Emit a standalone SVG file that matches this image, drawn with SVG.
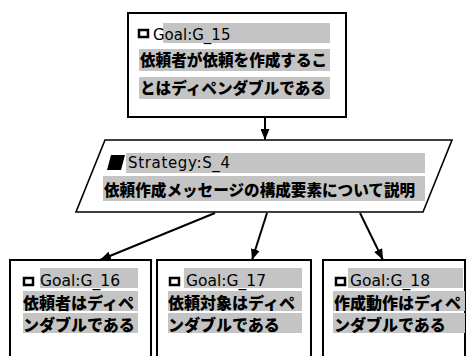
<svg xmlns="http://www.w3.org/2000/svg" width="467" height="356" viewBox="0 0 467 356">
<defs>
<marker id="arr" markerUnits="userSpaceOnUse" markerWidth="11" markerHeight="9" refX="11" refY="4.5" orient="auto"><path d="M0,0 L11,4.5 L0,9 z" fill="#000"/></marker>
<style>
.box{fill:#fff;stroke:#000;stroke-width:2}
.hl{fill:#c4c4c4}
.lbl{font-family:"DejaVu Sans",sans-serif;font-size:15px;fill:#000}
.lbl2{font-family:"DejaVu Sans",sans-serif;font-size:15.5px;fill:#000}
.jp{font-family:"Noto Sans CJK JP",sans-serif;font-size:15.6px;font-weight:900;fill:#000}
.jp2{font-family:"Noto Sans CJK JP",sans-serif;font-size:16px;font-weight:900;fill:#000}
.ico{fill:none;stroke:#000;stroke-width:2.5}
.edge{stroke:#000;stroke-width:2;fill:none;marker-end:url(#arr)}
</style>
</defs>
<rect width="467" height="356" fill="#fff"/>
<g id="G_15">
<rect class="box" x="128" y="13" width="218" height="104"/>
<rect class="hl" x="163" y="23" width="167" height="20"/>
<rect class="hl" x="139" y="49" width="191" height="22"/>
<rect class="hl" x="139" y="77" width="191" height="22"/>
<rect class="ico" x="139" y="30" width="9" height="7"/>
<text class="lbl" x="153" y="40">Goal:G_15</text>
<text class="jp" x="140" y="66">依頼者が依頼を作成するこ</text>
<text class="jp" x="140" y="94">とはディペンダブルである</text>
</g>
<g id="S_4">
<polygon points="105,140 452,140 423,212 76,212" fill="#fff" stroke="#000" stroke-width="1.6"/>
<rect class="hl" x="126" y="153" width="299" height="20"/>
<rect class="hl" x="103" y="176" width="322" height="25"/>
<polygon points="111,155 125,155 121,170 107,170" fill="#000"/>
<text class="lbl" x="128" y="168" textLength="102">Strategy:S_4</text>
<text class="jp" x="104" y="196">依頼作成メッセージの構成要素について説明</text>
</g>
<g id="G_16">
<rect class="box" x="10" y="260" width="141" height="110"/>
<rect class="hl" x="40" y="268" width="98" height="20"/>
<rect class="hl" x="23" y="291" width="115" height="20"/>
<rect class="hl" x="23" y="313" width="115" height="20"/>
<rect class="ico" x="24" y="278" width="9" height="7"/>
<text class="lbl2" x="40" y="285.5">Goal:G_16</text>
<text class="jp2" x="23" y="309">依頼者はディペ</text>
<text class="jp2" x="23" y="331">ンダブルである</text>
</g>
<g id="G_17">
<rect class="box" x="157" y="260" width="154" height="110"/>
<rect class="hl" x="184" y="268" width="118" height="20"/>
<rect class="hl" x="168" y="291" width="134" height="20"/>
<rect class="hl" x="168" y="313" width="134" height="20"/>
<rect class="ico" x="170" y="278" width="9" height="7"/>
<text class="lbl2" x="186" y="285.5">Goal:G_17</text>
<text class="jp2" x="168" y="309">依頼対象はディペ</text>
<text class="jp2" x="168" y="331">ンダブルである</text>
</g>
<g id="G_18">
<rect class="box" x="323" y="260" width="142" height="110"/>
<rect class="hl" x="348" y="268" width="115" height="20"/>
<rect class="hl" x="333" y="291" width="132" height="20"/>
<rect class="hl" x="333" y="313" width="132" height="20"/>
<rect class="ico" x="336" y="278" width="9" height="7"/>
<text class="lbl2" x="350" y="285.5">Goal:G_18</text>
<text class="jp2" x="334" y="309">作成動作はディペ</text>
<text class="jp2" x="334" y="331">ンダブルである</text>
</g>
<g id="connectors">
<line class="edge" x1="265" y1="117" x2="265" y2="140"/>
<line class="edge" x1="215" y1="213" x2="100" y2="260"/>
<line class="edge" x1="267" y1="213" x2="252" y2="260"/>
<line class="edge" x1="360" y1="213" x2="383" y2="260"/>
</g>
</svg>
